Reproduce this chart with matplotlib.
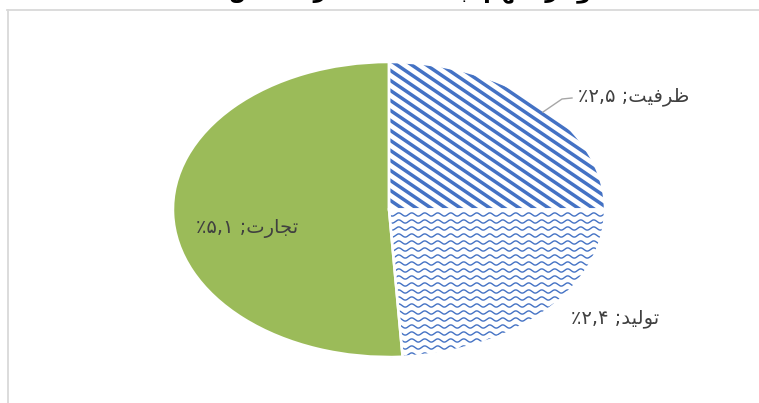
import numpy as np
import matplotlib
matplotlib.use('Agg')
import matplotlib.pyplot as plt
from matplotlib.patches import Wedge

plt.rcParams['font.family'] = ['DejaVu Sans']

# data
names = ['ظرفیت', 'تولید', 'تجارت']
values = [2.5, 2.4, 5.1]
title = 'نمودار سهم ابعاد مختلف در شاخص'

BLUE = '#4472C4'
GREEN = '#9BBB59'
TEXT = '#404040'

# presentation forms: isolated, final, initial, medial
FORMS = {
    'ا': ('\uFE8D', '\uFE8E', None, None),
    'ب': ('\uFE8F', '\uFE90', '\uFE91', '\uFE92'),
    'ت': ('\uFE95', '\uFE96', '\uFE97', '\uFE98'),
    'ج': ('\uFE9D', '\uFE9E', '\uFE9F', '\uFEA0'),
    'خ': ('\uFEA5', '\uFEA6', '\uFEA7', '\uFEA8'),
    'د': ('\uFEA9', '\uFEAA', None, None),
    'ر': ('\uFEAD', '\uFEAE', None, None),
    'س': ('\uFEB1', '\uFEB2', '\uFEB3', '\uFEB4'),
    'ش': ('\uFEB5', '\uFEB6', '\uFEB7', '\uFEB8'),
    'ص': ('\uFEB9', '\uFEBA', '\uFEBB', '\uFEBC'),
    'ظ': ('\uFEC5', '\uFEC6', '\uFEC7', '\uFEC8'),
    'ع': ('\uFEC9', '\uFECA', '\uFECB', '\uFECC'),
    'ف': ('\uFED1', '\uFED2', '\uFED3', '\uFED4'),
    'ل': ('\uFEDD', '\uFEDE', '\uFEDF', '\uFEE0'),
    'م': ('\uFEE1', '\uFEE2', '\uFEE3', '\uFEE4'),
    'ن': ('\uFEE5', '\uFEE6', '\uFEE7', '\uFEE8'),
    'ه': ('\uFEE9', '\uFEEA', '\uFEEB', '\uFEEC'),
    'و': ('\uFEED', '\uFEEE', None, None),
    'ی': ('\uFEEF', '\uFEF0', '\uFEF3', '\uFEF4'),
}


def shape_word(word):
    out = []
    for i, c in enumerate(word):
        if c not in FORMS:
            out.append(c)
            continue
        cp = i > 0 and word[i - 1] in FORMS and FORMS[word[i - 1]][2] is not None
        cn = i < len(word) - 1 and word[i + 1] in FORMS and FORMS[c][2] is not None
        f = FORMS[c]
        if cp and cn:
            out.append(f[3])
        elif cp:
            out.append(f[1])
        elif cn:
            out.append(f[2])
        else:
            out.append(f[0])
    return ''.join(out)


def rtl(text):
    # visual order for plain left-to-right layout
    return ' '.join(shape_word(w)[::-1] for w in text.split(' ')[::-1])


def fa_num(v):
    digits = '۰۱۲۳۴۵۶۷۸۹'
    s = f'{v:.1f}'
    return ''.join(digits[int(ch)] if ch.isdigit() else ',' for ch in s)


W, H = 759, 403
cx, cy, rx, ry = 389, 209.5, 216, 147.5

fig = plt.figure(figsize=(W / 100, H / 100), dpi=100)
fig.patch.set_facecolor('white')

ax = fig.add_axes([(cx - rx) / W, (H - cy - ry) / H, 2 * rx / W, 2 * ry / H])
wedges, _ = ax.pie(values, colors=['white', 'white', GREEN], startangle=90,
                   counterclock=False, radius=1,
                   wedgeprops=dict(edgecolor='none', linewidth=0))


def to_data(px, py):
    return (np.asarray(px) - cx) / rx, (cy - np.asarray(py)) / ry


# diagonal stripes for the first slice
xs = np.array([cx - 10, cx + rx + 10])
for off in np.arange(-320, 320, 10):
    py = cy + off + 0.68 * (xs - cx)
    ln, = ax.plot(*to_data(xs, py), color=BLUE, lw=2.5, solid_capstyle='butt')
    ln.set_clip_path(wedges[0])

# wavy lines for the second slice
xs = np.linspace(cx - 20, cx + rx + 10, 800)
for off in np.arange(5, ry + 12, 7):
    py = cy + off + 1.6 * np.sin(2 * np.pi * (xs - cx) / 13)
    ln, = ax.plot(*to_data(xs, py), color=BLUE, lw=1.0)
    ln.set_clip_path(wedges[1])

for w in wedges:
    ax.add_patch(Wedge((0, 0), 1, w.theta1, w.theta2, fill=False,
                       edgecolor='white', linewidth=1.8, zorder=5))

ax.set_aspect('auto')
ax.set_xlim(-1, 1)
ax.set_ylim(-1, 1)
ax.axis('off')

# overlay in pixel coordinates for frame, labels and title
ov = fig.add_axes([0, 0, 1, 1], zorder=3)
ov.set_xlim(0, W)
ov.set_ylim(H, 0)
ov.axis('off')

ov.plot([7, W + 2], [10, 10], color='#d9d9d9', lw=1.3)
ov.plot([8, 8], [10, H + 2], color='#d9d9d9', lw=1.3)

# title sits mostly above the top edge, as in the reference
ov.text(422, -3, rtl(title), ha='center', va='baseline', fontsize=16,
        fontweight='bold', color='black')

label_pos = [(634, 97), (615, 318), (247, 228)]
for name, v, (lx, ly) in zip(names, values, label_pos):
    s = '٪' + fa_num(v) + ' ;' + rtl(name)
    ov.text(lx, ly, s, ha='center', va='center', fontsize=14, color=TEXT)

# leader line for the first label
ov.plot([543, 562, 572], [112, 99, 98], color='#a6a6a6', lw=1.0)

fig.savefig('out.png', dpi=100, facecolor='white')
